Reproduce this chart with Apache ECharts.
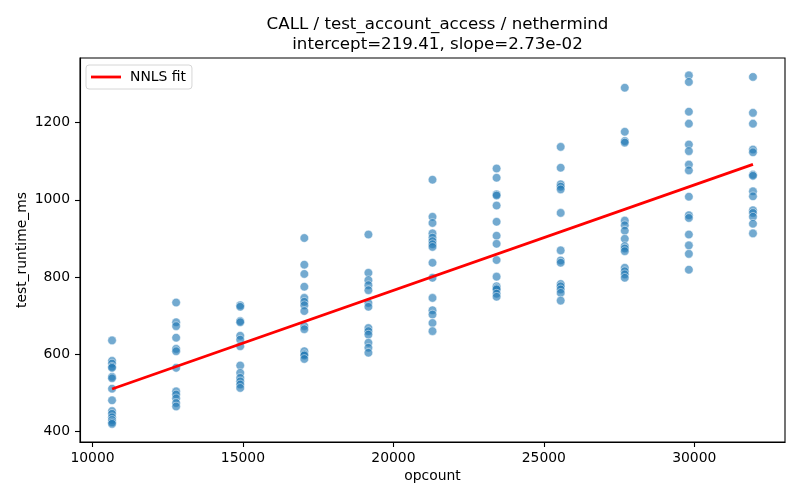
<!DOCTYPE html>
<html>
<head>
<meta charset="utf-8">
<script src="https://cdn.jsdelivr.net/npm/echarts@6/dist/echarts.min.js"></script>
<style>
	html, body { margin: 0; padding: 0; background: #fff; }
	#chart { width: 800px; height: 500px; }
</style>
</head>
<body>
<div id="chart"></div>
<script>
// opcount per test group (x positions of the columns)
var opcounts = [10650, 12780, 14910, 17040, 19170, 21300, 23430, 25560, 27690, 29820, 31950];

var runtimes = [
	[636, 583, 576, 568, 565, 542, 538, 511, 481, 453, 446, 437, 430, 424, 420],
	[734, 683, 673, 643, 614, 608, 565, 504, 496, 486, 474, 465],
	[727, 723, 686, 683, 648, 638, 621, 571, 552, 539, 530, 522, 513],
	[901, 832, 808, 775, 746, 736, 727, 712, 673, 665, 608, 600, 597, 588],
	[910, 811, 792, 779, 766, 733, 723, 668, 660, 651, 630, 617, 604],
	[1052, 956, 940, 913, 902, 893, 885, 878, 837, 798, 746, 714, 703, 681, 660],
	[1081, 1057, 1014, 1011, 985, 943, 907, 886, 844, 801, 776, 771, 768, 757, 749],
	[1137, 1083, 1040, 1034, 1027, 966, 869, 843, 837, 782, 776, 768, 759, 739],
	[1290, 1176, 1152, 1148, 946, 934, 920, 899, 880, 874, 867, 824, 815, 807, 798],
	[1322, 1305, 1228, 1197, 1143, 1126, 1091, 1076, 1008, 960, 953, 910, 882, 860, 819],
	[1318, 1225, 1197, 1130, 1123, 1065, 1062, 1022, 1009, 973, 966, 956, 938, 913]
];

// NNLS fit line end points
var fitX = [10650, 31950];
var fitY = [510.2, 1091.7];

// tick labels
var xTicks = [10000, 15000, 20000, 25000, 30000];
var yTicks = [400, 600, 800, 1000, 1200];

var titleText = 'CALL / test_account_access / nethermind\nintercept=219.41, slope=2.73e-02';

var pts = [];
for (var i = 0; i < opcounts.length; i++) {
	for (var j = 0; j < runtimes[i].length; j++) {
		pts.push([opcounts[i], runtimes[i][j]]);
	}
}
var fitLine = [];
for (var k = 0; k < fitX.length; k++) {
	fitLine.push([fitX[k], fitY[k]]);
}

// plain numbers, no thousands separator
function plain(v) {
	return String(v);
}

var font = 'DejaVu Sans';
var chart = echarts.init(document.getElementById('chart'));
var option = {
	animation : false,
	backgroundColor : '#fff',
	textStyle : { fontFamily : font },
	title : {
		text : titleText,
		left : 432.5,
		top : 9,
		textAlign : 'center',
		textStyle : {
			fontFamily : font,
			fontSize : 16.67,
			fontWeight : 'normal',
			color : '#000',
			lineHeight : 20.5
		}
	},
	legend : {
		left : 86,
		top : 65,
		orient : 'vertical',
		data : ['NNLS fit'],
		icon : 'rect',
		itemWidth : 30,
		itemHeight : 2.8,
		padding : [5, 6, 5, 5],
		borderColor : '#d6d6d6',
		borderWidth : 1,
		borderRadius : 3,
		backgroundColor : 'rgba(255,255,255,0.8)',
		textStyle : { fontFamily : font, fontSize : 13.9, color : '#000', padding : [0, 0, 0, 4] }
	},
	grid : {
		left : 80,
		right : 15,
		top : 58,
		bottom : 58,
		show : true,
		borderColor : '#000',
		borderWidth : 1.1,
		containLabel : false
	},
	xAxis : {
		type : 'value',
		min : 9585,
		max : 33015,
		name : 'opcount',
		nameLocation : 'middle',
		nameGap : 27,
		nameMoveOverlap : false,
		nameTextStyle : { fontFamily : font, fontSize : 13.9, color : '#000' },
		splitLine : { show : false },
		axisLine : { show : true, lineStyle : { color : '#000', width : 1.1 } },
		axisTick : { show : true, length : 5, lineStyle : { color : '#000', width : 1.1 }, customValues : xTicks },
		axisLabel : { fontFamily : font, fontSize : 13.9, color : '#000', margin : 9, customValues : xTicks, formatter : plain }
	},
	yAxis : {
		type : 'value',
		min : 373,
		max : 1367,
		name : 'test_runtime_ms',
		nameLocation : 'middle',
		nameGap : 51,
		nameMoveOverlap : false,
		nameTextStyle : { fontFamily : font, fontSize : 13.9, color : '#000' },
		splitLine : { show : false },
		axisLine : { show : true, lineStyle : { color : '#000', width : 1.1 } },
		axisTick : { show : true, length : 5, lineStyle : { color : '#000', width : 1.1 }, customValues : yTicks },
		axisLabel : { fontFamily : font, fontSize : 13.9, color : '#000', margin : 10, customValues : yTicks, formatter : plain }
	},
	series : [ {
		name : 'runs',
		type : 'scatter',
		symbol : 'circle',
		symbolSize : 8.6,
		data : pts,
		itemStyle : {
			color : 'rgba(31,119,180,0.78)',
			borderColor : '#fff',
			borderWidth : 0.6
		},
		z : 2
	}, {
		name : 'NNLS fit',
		type : 'line',
		data : fitLine,
		symbol : 'none',
		lineStyle : { color : '#ff0000', width : 2.8 },
		itemStyle : { color : '#ff0000' },
		z : 3
	} ]
};
chart.setOption(option);
</script>
</body>
</html>
